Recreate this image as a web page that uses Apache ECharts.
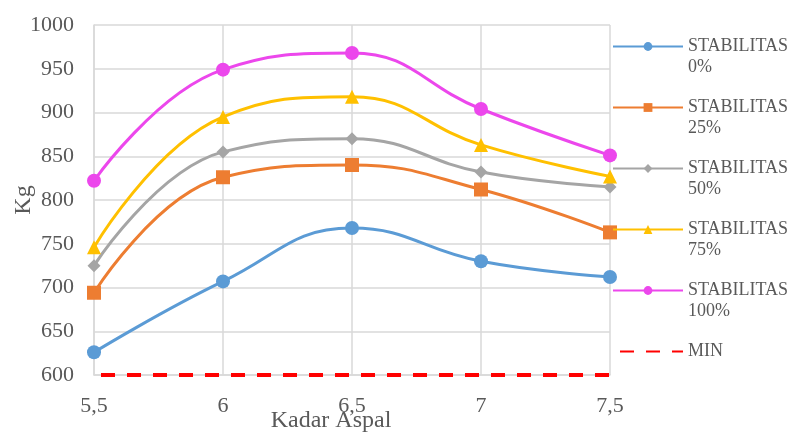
<!DOCTYPE html>
<html>
<head>
<meta charset="utf-8">
<script src="https://cdn.jsdelivr.net/npm/echarts@6/dist/echarts.min.js"></script>
<style>
  html, body { margin: 0; padding: 0; background: #fff; }
  #chart { width: 798px; height: 437px; }
</style>
</head>
<body>
<div id="chart"></div>
<script>
// Asphalt content (Kadar Aspal) categories
var categories = ['5,5', '6', '6,5', '7', '7,5'];

// Marshall stability (Kg) per replacement level
var stab0   = [626, 707, 768, 730, 712];
var stab25  = [694, 826, 840, 812, 763];
var stab50  = [725, 855, 870, 832, 815];
var stab75  = [746, 895, 918, 863, 827];
var stab100 = [822, 949, 968, 904, 851];
var minReq  = [600, 600, 600, 600, 600];

var seriesNames = ['STABILITAS\n0%', 'STABILITAS\n25%', 'STABILITAS\n50%',
                   'STABILITAS\n75%', 'STABILITAS\n100%', 'MIN'];

var FONT = '"Liberation Serif", "Times New Roman", serif';
var TXT = '#595959';

function curve(name, data, color, symbol, size) {
  return {
    name: name,
    type: 'line',
    data: data,
    smooth: 0.45,
    symbol: symbol,
    symbolSize: size,
    lineStyle: { color: color, width: 3 },
    itemStyle: { color: color },
    z: 3
  };
}

var legendData = seriesNames.map(function (n) {
  // the MIN entry shows only its dashed line, no marker
  return n === 'MIN' ? { name: n, itemStyle: { opacity: 0 } } : { name: n };
});

var chart = echarts.init(document.getElementById('chart'), null, { renderer: 'canvas' });
chart.setOption({
  animation: false,
  backgroundColor: '#fff',
  grid: { left: 94, right: 188, top: 25, bottom: 62, containLabel: false, outerBoundsMode: 'none' },
  legend: {
    orient: 'vertical',
    left: 612,
    top: 15,
    padding: 0,
    itemWidth: 70,
    itemHeight: 11,
    itemGap: -2,
    data: legendData,
    // leading blank line keeps the first text line level with the icon
    formatter: function (name) {
      return name === 'MIN' ? '\nMIN\n ' : '\n' + name;
    },
    textStyle: {
      fontFamily: FONT,
      fontSize: 18,
      color: TXT,
      lineHeight: 21
    }
  },
  xAxis: {
    type: 'category',
    data: categories,
    boundaryGap: false,
    name: 'Kadar Aspal',
    nameLocation: 'middle',
    nameGap: 34,
    nameMoveOverlap: false,
    nameTextStyle: { fontFamily: FONT, fontSize: 24, color: TXT, padding: [0, 42, 0, 0] },
    axisLine: { lineStyle: { color: '#D9D9D9', width: 1.5 } },
    axisTick: { show: false },
    axisLabel: { fontFamily: FONT, fontSize: 22, color: TXT, margin: 20 },
    splitLine: { show: true, lineStyle: { color: '#D9D9D9', width: 1.5 } }
  },
  yAxis: {
    type: 'value',
    min: 600,
    max: 1000,
    interval: 50,
    name: 'Kg',
    nameLocation: 'middle',
    nameGap: 58,
    nameMoveOverlap: false,
    nameTextStyle: { fontFamily: FONT, fontSize: 24, color: TXT },
    axisLine: { show: true, lineStyle: { color: '#D9D9D9', width: 1.5 } },
    axisTick: { show: false },
    axisLabel: {
      fontFamily: FONT, fontSize: 22, color: TXT, margin: 20,
      formatter: function (v) { return String(v); }
    },
    splitLine: { show: true, lineStyle: { color: '#D9D9D9', width: 1.5 } }
  },
  series: [
    curve(seriesNames[0], stab0,   '#5B9BD5', 'circle',   14),
    curve(seriesNames[1], stab25,  '#ED7D31', 'rect',     14),
    curve(seriesNames[2], stab50,  '#A5A5A5', 'diamond',  13),
    curve(seriesNames[3], stab75,  '#FFC000', 'triangle', 14),
    curve(seriesNames[4], stab100, '#EC47EC', 'circle',   14),
    {
      name: seriesNames[5],
      type: 'line',
      data: minReq,
      symbol: 'none',
      lineStyle: { color: '#FF0000', width: 4, type: [14, 12], dashOffset: 19 },
      itemStyle: { color: '#FF0000' },
      z: 4
    }
  ]
});
</script>
</body>
</html>
